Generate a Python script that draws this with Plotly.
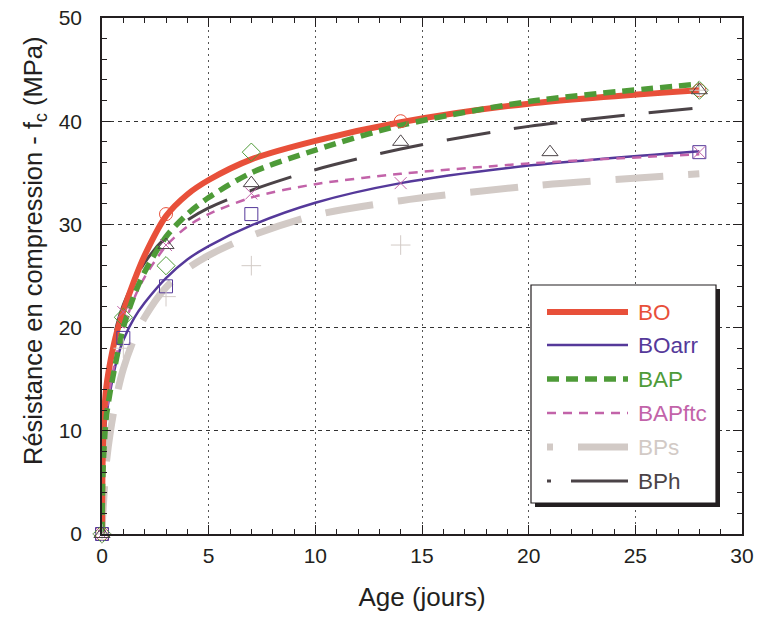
import plotly.graph_objects as go

# ---------------- data ----------------
series_names = ["BO", "BOarr", "BAP", "BAPftc", "BPs", "BPh"]

# fitted curves
fit_age = [0, 0.03, 0.1, 0.2, 0.4, 0.7, 1, 1.5, 2, 3, 4, 5, 7, 10, 14, 20, 28]
fit_BO = [0, 7, 11.5, 14.2, 16.8, 19.6, 21.6, 24.5, 27.0, 30.8, 32.9, 34.3, 36.3, 38.1, 39.9, 41.7, 43.0]
fit_BOarr = [0, 4.5, 8.5, 11.3, 14.0, 16.9, 18.8, 20.9, 22.4, 24.8, 26.6, 27.9, 29.9, 32.1, 34.0, 35.7, 37.1]
fit_BAP = [0, 5, 8.5, 11.3, 14.0, 17.2, 20.0, 23.1, 25.4, 28.8, 31.0, 32.6, 35.0, 37.2, 39.6, 41.9, 43.6]
fit_BAPftc = [0, 5, 8.5, 11.5, 14.5, 17.5, 19.9, 22.8, 24.9, 27.9, 29.8, 31.0, 32.6, 33.9, 34.9, 35.9, 36.8]
fit_BPs = [0, 1.5, 4.0, 6.8, 10.0, 13.5, 16.0, 18.9, 21.0, 23.9, 25.7, 27.0, 28.9, 30.9, 32.3, 33.7, 34.9]
fit_BPh = [0, 6, 10.5, 13.8, 17.0, 20.3, 22.2, 24.5, 26.3, 28.8, 30.4, 31.6, 33.3, 35.3, 37.3, 39.5, 41.3]

# measured points
pt_age_BO = [0, 3, 14, 28]
pt_BO = [0, 31, 40, 43]
pt_age_BOarr = [0, 1, 3, 7, 28]
pt_BOarr = [0, 19, 24, 31, 37]
pt_age_BAP = [0, 1, 3, 7, 28]
pt_BAP = [0, 21, 26, 37, 43]
pt_age_BAPftc = [0, 1, 3, 7, 14, 28]
pt_BAPftc = [0, 21.5, 28, 33, 34, 37]
pt_age_BPs = [0, 1, 3, 7, 14, 28]
pt_BPs = [0, 18, 23, 26, 28, 43]
pt_age_BPh = [0, 3, 7, 14, 21, 28]
pt_BPh = [0, 28, 34, 38, 37, 43]

x_ticks = [0, 5, 10, 15, 20, 25, 30]
y_ticks = [0, 10, 20, 30, 40, 50]

# ---------------- styles ----------------
colors = {
    "BO": "#E8503A",
    "BOarr": "#55399A",
    "BAP": "#4E9B38",
    "BAPftc": "#C263A9",
    "BPs": "#D2CAC6",
    "BPh": "#4B4347",
}
line_styles = {
    "BO": dict(width=6, dash="solid"),
    "BOarr": dict(width=2.5, dash="solid"),
    "BAP": dict(width=5.5, dash="12px,7px"),
    "BAPftc": dict(width=2.5, dash="9px,7px"),
    "BPs": dict(width=7, dash="48px,25px"),
    "BPh": dict(width=3, dash="44px,24px"),
}
symbols = {
    "BO": ("circle-open", 13),
    "BOarr": ("square-open", 13),
    "BAP": ("diamond-open", 14),
    "BAPftc": ("x-thin-open", 12),
    "BPs": ("cross-thin-open", 14),
    "BPh": ("triangle-up-open", 14),
}
fits = {"BO": fit_BO, "BOarr": fit_BOarr, "BAP": fit_BAP,
        "BAPftc": fit_BAPftc, "BPs": fit_BPs, "BPh": fit_BPh}
pts = {"BO": (pt_age_BO, pt_BO), "BOarr": (pt_age_BOarr, pt_BOarr),
       "BAP": (pt_age_BAP, pt_BAP), "BAPftc": (pt_age_BAPftc, pt_BAPftc),
       "BPs": (pt_age_BPs, pt_BPs), "BPh": (pt_age_BPh, pt_BPh)}

fig = go.Figure()

draw_order = ["BPs", "BOarr", "BAPftc", "BPh", "BO", "BAP"]
for name in draw_order:
    fig.add_trace(go.Scatter(
        x=fit_age, y=fits[name], mode="lines",
        line=dict(color=colors[name], width=line_styles[name]["width"],
                  dash=line_styles[name]["dash"], shape="spline", smoothing=0.8),
        showlegend=False, hoverinfo="skip"))

for name in series_names:
    sym, sz = symbols[name]
    fig.add_trace(go.Scatter(
        x=pts[name][0], y=pts[name][1], mode="markers",
        marker=dict(symbol=sym, size=sz, color=colors[name],
                    line=dict(color=colors[name], width=1)),
        cliponaxis=False, showlegend=False, name=name))

# ---------------- geometry ----------------
OFF = 0                       # page body margin removed by post_script below
W, H = 761, 618
L, R, T, B = 102, 19, 18, 84  # plot area: x 102..742, y 18..534

# ---------------- custom legend (pixel coordinates on overlay axes) ----------------
leg_rows = [312, 345, 379, 413, 447, 481]
leg_x0, leg_x1, leg_mx, leg_tx = 547, 628, 587, 636
leg_segments = {
    "BO": [(leg_x0, leg_x1, None)],
    "BOarr": [(leg_x0, leg_x1, None)],
    "BAP": [(leg_x0, leg_x1, None)],
    "BAPftc": [(leg_x0, leg_x1, None)],
    "BPs": [(547, 553, "solid"), (578, leg_x1, "solid")],
    "BPh": [(547, 551, "solid"), (571, leg_x1, "solid")],
}

shapes = []
shapes.append(dict(type="rect", xref="x2", yref="y2", x0=535, x1=720, y0=289, y1=507,
                   fillcolor="#231F20", line=dict(width=0), layer="above"))
shapes.append(dict(type="rect", xref="x2", yref="y2", x0=531, x1=716, y0=285, y1=503,
                   fillcolor="white", line=dict(color="#231F20", width=1.2), layer="above"))
annotations = []
for name, ry in zip(series_names, leg_rows):
    st = line_styles[name]
    for sx0, sx1, dsh in leg_segments[name]:
        shapes.append(dict(type="line", xref="x2", yref="y2", x0=sx0, x1=sx1, y0=ry, y1=ry,
                           line=dict(color=colors[name], width=st["width"],
                                     dash=dsh if dsh else st["dash"]),
                           layer="above"))
    annotations.append(dict(xref="x2", yref="y2", x=leg_tx, y=ry, text=name, showarrow=False,
                            xanchor="left", yanchor="middle",
                            font=dict(size=22.5, color=colors[name], family="Liberation Sans")))

for name, ry in zip(series_names, leg_rows):
    sym, sz = symbols[name]
    fig.add_trace(go.Scatter(
        x=[leg_mx], y=[ry], xaxis="x2", yaxis="y2", mode="markers",
        marker=dict(symbol=sym, size=sz, color=colors[name],
                    line=dict(color=colors[name], width=1)),
        showlegend=False, hoverinfo="skip"))

# y-axis title as annotation (page position x=35, y=251)
annotations.append(dict(xref="paper", yref="paper",
                        x=(35 - OFF - L) / (W - L - R),
                        y=1 - (251 - OFF - T) / (H - T - B),
                        text="Résistance en compression - f<sub>c</sub> (MPa)",
                        textangle=-90, showarrow=False, xanchor="center", yanchor="middle",
                        font=dict(size=25.5, color="#231F20", family="Liberation Sans")))

axis_common = dict(
    showline=True, linecolor="#231F20", linewidth=1.5, mirror="allticks",
    ticks="inside", ticklen=9, tickwidth=1.2, tickcolor="#231F20",
    zeroline=False, showgrid=True, gridwidth=1.2, automargin=False,
    ticklabeloverflow="allow",
    tickfont=dict(size=21, color="#231F20", family="Liberation Sans"),
)

fig.update_layout(
    template="none",
    width=W, height=H,
    margin=dict(l=L, r=R, t=T, b=B, pad=0),
    paper_bgcolor="white", plot_bgcolor="white",
    font=dict(family="Liberation Sans", color="#231F20"),
    hovermode=False,
    xaxis=dict(range=[0, 30], tickvals=x_ticks, ticktext=[str(v) for v in x_ticks],
               gridcolor="#555555", griddash="2px,4px",
               minor=dict(dtick=1, ticks="inside", ticklen=5, tickcolor="#231F20", showgrid=False),
               ticklabelstandoff=2,
               title=dict(text="Age (jours)", font=dict(size=26, color="#231F20"), standoff=22),
               **axis_common),
    yaxis=dict(range=[0, 50], tickvals=y_ticks, ticktext=[str(v) for v in y_ticks],
               gridcolor="#333333", griddash="4px,4px",
               minor=dict(dtick=2, ticks="inside", ticklen=5, tickcolor="#231F20", showgrid=False),
               ticklabelstandoff=14,
               **axis_common),
    xaxis2=dict(range=[L + OFF, W - R + OFF], domain=[0, 1], overlaying="x", visible=False,
                fixedrange=True, automargin=False),
    yaxis2=dict(range=[H - B + OFF, T + OFF], domain=[0, 1], overlaying="y", visible=False,
                fixedrange=True, automargin=False),
    shapes=shapes,
    annotations=annotations,
)

fig.write_html("out.html",
               config={"displayModeBar": False},
               post_script="document.body.style.margin='0';document.body.style.overflow='hidden';")
